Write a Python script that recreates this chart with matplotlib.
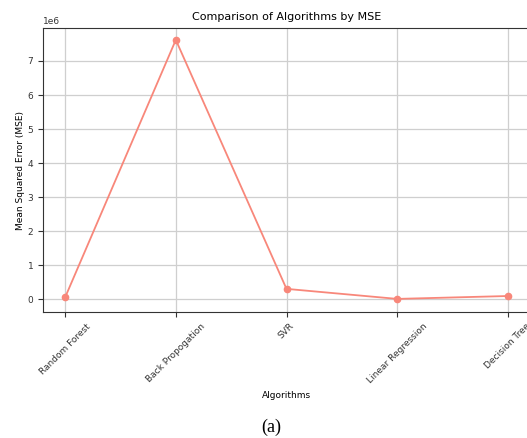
import matplotlib
matplotlib.use("Agg")
import matplotlib.pyplot as plt

algorithms = ["Random Forest", "Back Propogation", "SVR", "Linear Regression", "Decision Tree"]
mse = [0.05e6, 7.62e6, 0.30e6, 0.005e6, 0.09e6]

fig = plt.figure(figsize=(5.27, 4.38), dpi=100)
ax = fig.add_axes([43/527, 1-312/438, (530-43)/527, (312-28)/438])
ax.plot(algorithms, mse, marker='o', color='#f8877a', linewidth=1.3, markersize=4.5, zorder=3)
ax.set_ylim(-0.38e6, 7.97e6)
ax.set_title("Comparison of Algorithms by MSE", fontsize=8)
ax.set_xlabel("Algorithms", fontsize=6.5)
ax.set_ylabel("Mean Squared Error (MSE)", fontsize=6.5, labelpad=1.5)
ax.tick_params(labelsize=6.5, colors='#333333')
ax.yaxis.get_offset_text().set_fontsize(6.5)
plt.setp(ax.get_xticklabels(), rotation=45)
ax.grid(True, color='#cfcfcf', linewidth=0.9)
for s in ax.spines.values():
    s.set_color('#333333')
fig.text(0.515, 1-427/438, "(a)", fontsize=13, family="Liberation Serif", ha='center', va='center')
fig.savefig("out.png", dpi=100)
